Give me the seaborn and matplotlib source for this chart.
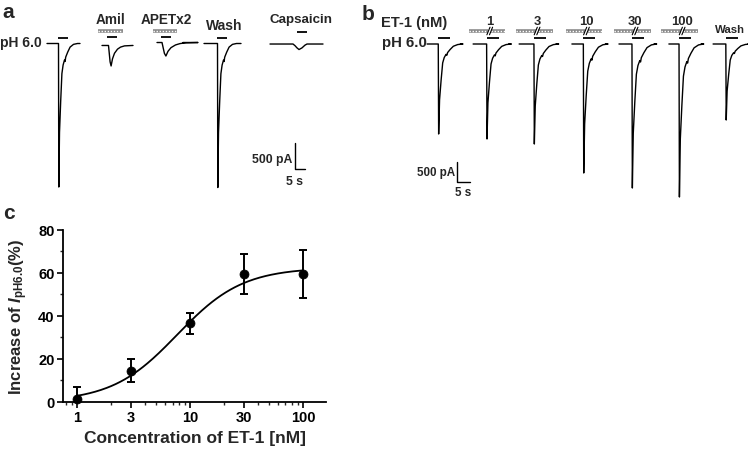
import numpy as np
import seaborn as sns
import matplotlib.pyplot as plt
from matplotlib.ticker import FixedLocator, NullFormatter

W, H = 748, 452

# ---- panel a : pH 6.0 currents (time in s, current in pA) ----
a_labels = ["pH 6.0", "Amil", "APETx2", "Wash", "Capsaicin"]
a_start = [23.5, 51.0, 78.5, 102.0, 135.0]
a_onset = [29.25, 54.25, 81.0, 108.75, 146.5]
a_end = [40.0, 66.5, 91.5, 120.5, 161.5]
a_amp = [2760, 394, 260, 2770, 106]
a_base = [0, -38, 19, 0, -10]
a_shape = ["fast", "slow", "slow", "fast", "bump"]
a_stretch = [1.0, 1.0, 1.5, 1.0, 1.0]
a_drug_bar = {"Amil": (49.0, 61.5, 250), "APETx2": (76.5, 88.5, 240)}

# ---- panel b : ET-1 concentration series ----
b_labels = ["", "1", "3", "10", "30", "100", "Wash"]
b_start = [25.8, 43.5, 61.2, 81.5, 99.6, 118.8, 135.8]
b_onset = [30.1, 48.7, 66.9, 85.9, 104.6, 122.7, 140.7]
b_amp = [2250, 2375, 2500, 3225, 3600, 3825, 1900]

# normalised current shapes (s, fraction of peak)
shapes = {
    "fast": ([0, 0.15, 0.5, 1.1, 1.7, 2.3, 3.0, 3.3, 3.6, 4.6, 5.8, 7.5, 9.5],
             [0, 1.0, 0.62, 0.40, 0.21, 0.15, 0.115, 0.125, 0.095, 0.06, 0.025, 0.006, 0]),
    "slow": ([0, 0.3, 0.8, 1.3, 2.0, 3.0, 4.5, 6.0, 8.0, 12.0],
             [0, 0.3, 0.8, 1.0, 0.65, 0.38, 0.18, 0.08, 0.02, 0]),
    "bump": ([0, 1, 2, 3, 4.5, 6, 7],
             [0, 0.3, 0.7, 1.0, 0.7, 0.2, 0]),
}

# ---- panel c : concentration-response ----
conc = [1, 3, 10, 30, 100]
increase = [1.5, 14.5, 36.5, 59.5, 59.5]
sem = [5.5, 5.2, 5.0, 9.5, 11.0]
fit_top, fit_bottom, fit_ec50, fit_hill = 62.5, 0.0, 7.7, 1.5

sns.set_theme(style="ticks")
plt.rcParams['font.family'] = ['Liberation Sans', 'DejaVu Sans']
plt.rcParams['font.weight'] = 'bold'
plt.rcParams['mathtext.fontset'] = 'custom'
plt.rcParams['mathtext.rm'] = 'Liberation Sans:bold'
plt.rcParams['mathtext.it'] = 'Liberation Sans:bold:italic'
plt.rcParams['mathtext.bf'] = 'Liberation Sans:bold'

fig = plt.figure(figsize=(W / 100, H / 100), dpi=100)


def px_axes(x0, y0, x1, y1):
    return fig.add_axes([x0 / W, 1 - y1 / H, (x1 - x0) / W, (y1 - y0) / H])


def trace(ax, start, onset, end, amp, base, shape, stretch=1.0):
    st, sf = shapes[shape]
    t = [start, onset] + [onset + v * stretch for v in st[1:]] + [end]
    y = [base, base] + [base - amp * f for f in sf[1:]] + [base]
    sns.lineplot(x=np.array(t), y=np.array(y), ax=ax, color='black', lw=1.0,
                 sort=False, estimator=None)


def hatched(ax, t0, t1, y):
    ax.plot([t0, t1], [y, y], color='#8a8a8a', lw=2.6, solid_capstyle='butt')
    ax.plot([t0, t1], [y, y], color='white', lw=1.0, ls=(0, (1, 1.2)))


def solid(ax, t0, t1, y):
    ax.plot([t0, t1], [y, y], color='black', lw=1.3, solid_capstyle='butt')


# ---------------- panel a ----------------
a_px_s, a_px_pa, a_base_px = 2.0, 26 / 500, 44.5
ax_a = px_axes(0, 0, 360, 200)
ax_a.set_xlim(0, 360 / a_px_s)
ax_a.set_ylim((a_base_px - 200) / a_px_pa, a_base_px / a_px_pa)
ax_a.axis('off')
for i, name in enumerate(a_labels):
    trace(ax_a, a_start[i], a_onset[i], a_end[i], a_amp[i], a_base[i],
          a_shape[i], a_stretch[i])
    bar_y = 221 if name == "Capsaicin" else (106 if a_shape[i] == "fast" else 125)
    t0 = a_onset[i] - (0.25 if a_shape[i] == "fast" else 0.75)
    if name == "Capsaicin":
        t0 = 148.5
    solid(ax_a, t0, t0 + 5.2, bar_y)
    if name in a_drug_bar:
        d0, d1, dy = a_drug_bar[name]
        hatched(ax_a, d0, d1, dy)
ax_a.text(21, 29, "pH 6.0", ha='right', va='center', fontsize=10, fontweight='bold')
ax_a.text(55.5, 471, "Amil", ha='center', va='center', fontsize=9.8, fontweight='bold')
ax_a.text(83, 471, "APETx2", ha='center', va='center', fontsize=9.8, fontweight='bold')
ax_a.text(112, 356, "Wash", ha='center', va='center', fontsize=10, fontweight='bold')
ax_a.text(150.5, 471, "Capsaicin", ha='center', va='center', fontsize=9.6, fontweight='bold')
# scale bar
ax_a.plot([147.5, 147.5, 152.5], [-1913, -2413, -2413], color='black', lw=1.0)
ax_a.text(146, -2221, "500 pA", ha='right', va='center', fontsize=8.8, fontweight='bold')
ax_a.text(147.3, -2644, "5 s", ha='center', va='center', fontsize=8.8, fontweight='bold')

# ---------------- panel b ----------------
b_px_s, b_px_pa, b_base_px = 2.6, 20 / 500, 45
ax_b = px_axes(360, 0, 748, 215)
ax_b.set_xlim(0, 388 / b_px_s)
ax_b.set_ylim((b_base_px - 215) / b_px_pa, b_base_px / b_px_pa)
ax_b.axis('off')
for i, lab in enumerate(b_labels):
    trace(ax_b, b_start[i], b_onset[i], b_onset[i] + 8.5, b_amp[i], 0, "fast")
    solid(ax_b, b_onset[i], b_onset[i] + 4.6, 150)
    if lab and lab != "Wash":
        tb = b_onset[i] + 1.2
        hatched(ax_b, b_onset[i] - 6.8, tb - 0.5, 325)
        hatched(ax_b, tb + 0.5, b_onset[i] + 7.2, 325)
        for dt in (-0.5, 0.5):
            ax_b.plot([tb + dt - 0.6, tb + dt + 0.6], [230, 420], color='black', lw=0.8)
        ax_b.text(tb, 582, lab, ha='center', va='center', fontsize=9.4, fontweight='bold')
ax_b.text(142.3, 375, "Wash", ha='center', va='center', fontsize=8.2, fontweight='bold')
ax_b.text(8.1, 562, "ET-1 (nM)", ha='left', va='center', fontsize=10.6, fontweight='bold')
ax_b.text(25.8, 62, "pH 6.0", ha='right', va='center', fontsize=10.8, fontweight='bold')
ax_b.plot([37.3, 37.3, 42.3], [-2950, -3450, -3450], color='black', lw=1.0)
ax_b.text(36.5, -3200, "500 pA", ha='right', va='center', fontsize=8.4, fontweight='bold')
ax_b.text(39.6, -3700, "5 s", ha='center', va='center', fontsize=8.4, fontweight='bold')

# ---------------- panel c ----------------
ax_c = px_axes(63, 231, 326, 402.8)
xx = np.logspace(0, 2, 200)
yy = fit_bottom + (fit_top - fit_bottom) / (1 + (fit_ec50 / xx) ** fit_hill)
sns.lineplot(x=xx, y=yy, ax=ax_c, color='black', lw=1.3)
ax_c.errorbar(conc, increase, yerr=sem, fmt='none', ecolor='black',
              elinewidth=1.4, capsize=3.2, capthick=1.4)
sns.scatterplot(x=conc, y=increase, ax=ax_c, color='black', s=42,
                edgecolor='black', zorder=5, clip_on=False)
ax_c.set_xscale('log')
ax_c.set_xlim(0.75, 160)
ax_c.set_ylim(0, 80)
ax_c.xaxis.set_major_locator(FixedLocator(conc))
ax_c.set_xticklabels([str(c) for c in conc])
minor_x = [0.8, 0.9, 2, 4, 5, 6, 7, 8, 9, 20, 40, 50, 60, 70, 80, 90]
ax_c.xaxis.set_minor_locator(FixedLocator(minor_x))
ax_c.xaxis.set_minor_formatter(NullFormatter())
ax_c.set_yticks([0, 20, 40, 60, 80])
ax_c.yaxis.set_minor_locator(FixedLocator([10, 30, 50, 70]))
ax_c.tick_params(which='major', direction='out', length=4, width=1.2, pad=2,
                 labelsize=10.5, colors='black')
ax_c.tick_params(which='minor', direction='out', length=2.5, width=1.0)
for lab in ax_c.get_xticklabels() + ax_c.get_yticklabels():
    lab.set_fontweight('bold')
sns.despine(ax=ax_c)
for s in ('left', 'bottom'):
    ax_c.spines[s].set_linewidth(1.3)
    ax_c.spines[s].set_color('black')
ax_c.set_xlabel("Concentration of ET-1 [nM]", fontsize=12.5, fontweight='bold', labelpad=4)
ax_c.set_ylabel(r"Increase of $I_{\mathrm{pH6.0}}$(%)", fontsize=12,
                fontweight='bold', labelpad=6)

# panel letters
fig.text(2 / W, 1 - 13 / H, "a", fontsize=15, fontweight='bold', va='center', ha='left')
fig.text(362 / W, 1 - 14 / H, "b", fontsize=15, fontweight='bold', va='center', ha='left')
fig.text(3 / W, 1 - 214 / H, "c", fontsize=15, fontweight='bold', va='center', ha='left')

fig.savefig("out.png", dpi=100)
